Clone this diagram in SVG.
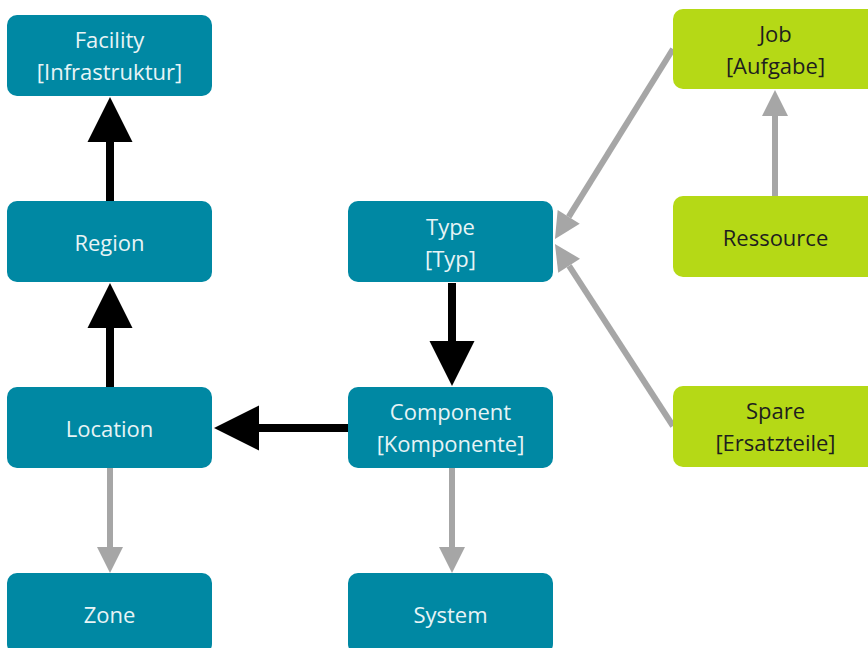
<svg xmlns="http://www.w3.org/2000/svg" width="868" height="648" viewBox="0 0 868 648">
<style>
.teal{fill:#0088A3}
.green{fill:#B5D916}
text{font-family:"Open Sans","Noto Sans",sans-serif;font-size:22px;text-anchor:middle}
.tw{fill:#E8F4F6}
.tg{fill:#1E1E1E}
.blk{stroke:#000;stroke-width:8;fill:none}
.gry{stroke:#A6A6A6;stroke-width:6;fill:none}
</style>
<defs>
<marker id="hb" markerUnits="userSpaceOnUse" markerWidth="46" markerHeight="46" refX="0" refY="22.5" orient="auto" overflow="visible">
<path d="M0,0 L45,22.5 L0,45 Z" fill="#000"/>
</marker>
<marker id="hg" markerUnits="userSpaceOnUse" markerWidth="27" markerHeight="27" refX="0" refY="13" orient="auto" overflow="visible">
<path d="M0,0 L26,13 L0,26 Z" fill="#A6A6A6"/>
</marker>
</defs>
<g id="connectors">
<path class="blk" d="M110,201 L110,142" marker-end="url(#hb)"/>
<path class="blk" d="M110,387 L110,328" marker-end="url(#hb)"/>
<path class="blk" d="M349,428 L259,428" marker-end="url(#hb)"/>
<path class="blk" d="M452,283 L452,341" marker-end="url(#hb)"/>
<path class="gry" d="M110,468 L110,547" marker-end="url(#hg)"/>
<path class="gry" d="M452,468 L452,547" marker-end="url(#hg)"/>
<path class="gry" d="M775,196 L775,116" marker-end="url(#hg)"/>
<path class="gry" d="M673,49 L568.7,216.9" marker-end="url(#hg)"/>
<path class="gry" d="M673,426 L569.1,265.8" marker-end="url(#hg)"/>
</g>
<g id="facility"><rect class="teal" x="7" y="15" width="205" height="81" rx="10"/><text class="tw" x="109.5" y="48">Facility</text><text class="tw" x="109.5" y="80">[Infrastruktur]</text></g>
<g id="region"><rect class="teal" x="7" y="201" width="205" height="81" rx="10"/><text class="tw" x="109.5" y="251">Region</text></g>
<g id="location"><rect class="teal" x="7" y="387" width="205" height="81" rx="10"/><text class="tw" x="109.5" y="437">Location</text></g>
<g id="zone"><rect class="teal" x="7" y="573" width="205" height="81" rx="10"/><text class="tw" x="109.5" y="623">Zone</text></g>
<g id="type"><rect class="teal" x="348" y="201" width="205" height="81" rx="10"/><text class="tw" x="450.5" y="235">Type</text><text class="tw" x="450.5" y="267">[Typ]</text></g>
<g id="component"><rect class="teal" x="348" y="387" width="205" height="81" rx="10"/><text class="tw" x="450.5" y="420">Component</text><text class="tw" x="450.5" y="452">[Komponente]</text></g>
<g id="system"><rect class="teal" x="348" y="573" width="205" height="81" rx="10"/><text class="tw" x="450.5" y="623">System</text></g>
<g id="job"><rect class="green" x="673" y="9" width="205" height="80" rx="10"/><text class="tg" x="775.5" y="42">Job</text><text class="tg" x="775.5" y="74">[Aufgabe]</text></g>
<g id="ressource"><rect class="green" x="673" y="196" width="205" height="81" rx="10"/><text class="tg" x="775.5" y="246">Ressource</text></g>
<g id="spare"><rect class="green" x="673" y="386" width="205" height="81" rx="10"/><text class="tg" x="775.5" y="419">Spare</text><text class="tg" x="775.5" y="451">[Ersatzteile]</text></g>
</svg>
